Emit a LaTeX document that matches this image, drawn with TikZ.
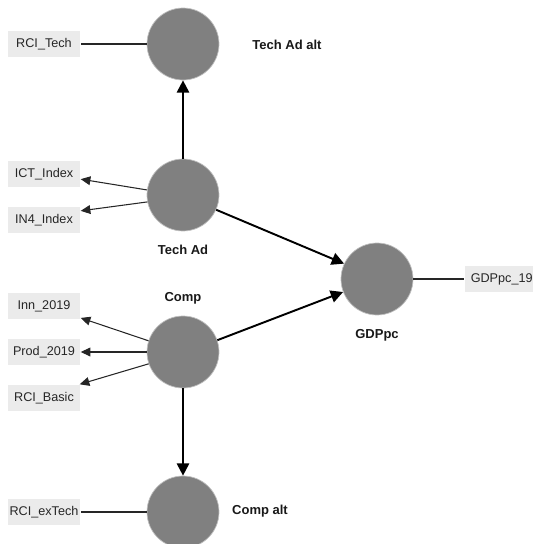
\documentclass[tikz,border=0pt]{standalone}
\usepackage{fontspec}
\setmainfont{Liberation Sans}
\usetikzlibrary{arrows.meta}

\begin{document}
\begin{tikzpicture}[x=0.02cm, y=-0.02cm, thick, font=\fontsize{7.2}{8.6}\selectfont]
    \tikzstyle{latent} = [circle, draw=black!25, line width=0.4pt, fill=black!50, minimum size=1.44cm, inner sep=0pt]
    \tikzstyle{indicator} = [rectangle, fill=black!8, minimum width=1.44cm, minimum height=0.52cm, inner sep=0pt, text=black!85]
    \tikzstyle{varlabel} = [font=\fontsize{7.4}{8.8}\selectfont\bfseries, text=black!90]
    \tikzstyle{structural} = [-{Triangle[length=7pt, width=7pt]}, line width=1.1pt]
    \tikzstyle{loading} = [-{Triangle[length=5.5pt, width=5pt]}, line width=0.6pt, draw=black!85]
    \tikzstyle{single} = [line width=0.6pt, draw=black!85]
    \useasboundingbox (0,0) rectangle (532,544);

    % latent variables
    \node[latent] (TA) at (183,195) {};
    \node[latent] (TAalt) at (183,44) {};
    \node[latent] (C) at (183,352) {};
    \node[latent] (Calt) at (183,512) {};
    \node[latent] (G) at (377,279) {};

    \node[varlabel] (lTA) at (183,250) {Tech Ad};
    \node[varlabel] (lTAalt) at (287,45) {Tech Ad alt};
    \node[varlabel] (lC) at (183,298) {Comp};
    \node[varlabel] (lCalt) at (260,511) {Comp alt};
    \node[varlabel] (lG) at (377,335) {GDPpc};

    % indicators
    \node[indicator] (rcitech) at (44,44) {RCI\_Tech};
    \node[indicator] (ict) at (44,174) {ICT\_Index};
    \node[indicator] (in4) at (44,220) {IN4\_Index};
    \node[indicator] (inn) at (44,306) {Inn\_2019};
    \node[indicator] (prod) at (44,352) {Prod\_2019};
    \node[indicator] (basic) at (44,398) {RCI\_Basic};
    \node[indicator] (extech) at (44,512) {RCI\_exTech};
    \node[indicator, minimum width=1.6cm, anchor=west] (gdp19) at (464,279) {\hspace*{-0.12cm}GDPpc\_19};

    % structural paths
    \draw[structural] (TA) -- (TAalt);
    \draw[structural] (C) -- (Calt);
    \draw[structural] (TA.-24) -- (G.155);
    \draw[structural] (C.19) -- (G.201);

    % measurement
    \draw[loading] (TA.172) -- (ict.-8);
    \draw[loading] (TA.191) -- (in4.14);
    \draw[loading] (C.162) -- (inn.-18);
    \draw[loading] (C) -- (prod);
    \draw[loading] (C.199) -- (basic.21);
    \draw[single] (TAalt) -- (rcitech);
    \draw[single] (Calt) -- (extech);
    \draw[single] (G) -- (gdp19);
\end{tikzpicture}
\end{document}
